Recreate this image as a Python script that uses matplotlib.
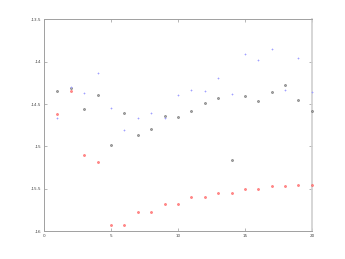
import numpy as np
import matplotlib
matplotlib.use("Agg")
import matplotlib.pyplot as plt

x = np.arange(1, 21)
red_vals = [-14.62, -14.34, -15.10, -15.19, -15.93, -15.93, -15.78, -15.78, -15.68, -15.68,
            -15.60, -15.60, -15.55, -15.55, -15.50, -15.50, -15.47, -15.47, -15.46, -15.46]
black_vals = [-14.35, -14.31, -14.56, -14.39, -14.98, -14.61, -14.87, -14.80, -14.64, -14.65,
              -14.58, -14.49, -14.43, -15.16, -14.41, -14.46, -14.36, -14.28, -14.45, -14.58]
blue_vals = [-14.67, -14.30, -14.37, -14.13, -14.55, -14.81, -14.67, -14.60, -14.66, -14.39,
             -14.33, -14.35, -14.19, -14.38, -13.91, -13.98, -13.85, -14.33, -13.96, -14.36]
xticks = [0, 5, 10, 15, 20]
yticks = [-16, -15.5, -15, -14.5, -14, -13.5]
ytick_labels = ['-16', '-15.5', '-15', '-14.5', '-14', '-13.5']

fig = plt.figure(figsize=(3.45, 2.59), dpi=100)
ax = fig.add_axes([0.1275, 0.108, 0.7765, 0.817])

ax.plot(x, red_vals, linestyle='none', marker='s', markersize=1.1, clip_on=False, zorder=4,
        markerfacecolor='#ff9090', markeredgecolor='#ff4040', markeredgewidth=0.4)
ax.plot(x, black_vals, linestyle='none', marker='s', markersize=1.1, clip_on=False, zorder=4,
        markerfacecolor='#b0b0b0', markeredgecolor='#505050', markeredgewidth=0.4)
ax.plot(x, blue_vals, linestyle='none', marker='+', markersize=1.6, clip_on=False, zorder=4,
        color='#a0a0ff', markeredgewidth=0.5)

ax.set_xlim(0, 20)
ax.set_ylim(-16, -13.5)
ax.set_xticks(xticks)
ax.set_xticklabels([str(t) for t in xticks])
ax.set_yticks(yticks)
ax.set_yticklabels(ytick_labels)
ax.tick_params(direction='in', length=2, width=0.5, labelsize=3,
               top=True, right=True, colors='#999999', labelcolor='#444444', pad=2)
for s in ax.spines.values():
    s.set_color('#a0a0a0')
    s.set_linewidth(0.7)
ax.spines['right'].set_color('#d0d0d0')
ax.spines['right'].set_linewidth(1.2)

fig.savefig('out.png', dpi=100)
